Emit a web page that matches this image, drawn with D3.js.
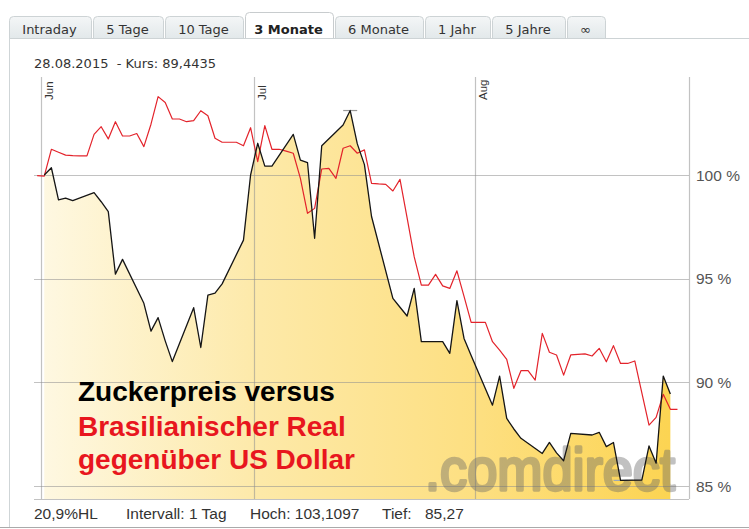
<!DOCTYPE html>
<html><head><meta charset="utf-8">
<script src="https://cdn.jsdelivr.net/npm/d3@7"></script>
<style>html,body{margin:0;padding:0;background:#fff;} svg{display:block;}</style>
</head><body><svg id="c" width="749" height="529"></svg>
<script>
// ---------- data ----------
const tabLabels = ["Intraday","5 Tage","10 Tage","3 Monate","6 Monate","1 Jahr","5 Jahre","\u221E"];
const activeTab = "3 Monate";
const headerText = "28.08.2015  - Kurs: 89,4435";

const sugarDates = ["2015-06-01","2015-06-02","2015-06-03","2015-06-04","2015-06-05",
 "2015-06-08","2015-06-09","2015-06-10","2015-06-11","2015-06-12",
 "2015-06-15","2015-06-16","2015-06-17","2015-06-18","2015-06-19",
 "2015-06-22","2015-06-23","2015-06-24","2015-06-25","2015-06-26",
 "2015-06-29","2015-06-30","2015-07-01","2015-07-02","2015-07-03",
 "2015-07-06","2015-07-07","2015-07-08","2015-07-09","2015-07-10",
 "2015-07-13","2015-07-14","2015-07-15","2015-07-16","2015-07-17",
 "2015-07-20","2015-07-21","2015-07-22","2015-07-23","2015-07-24",
 "2015-07-27","2015-07-28","2015-07-29","2015-07-30","2015-07-31",
 "2015-08-03","2015-08-04","2015-08-05","2015-08-06","2015-08-07",
 "2015-08-10","2015-08-11","2015-08-12","2015-08-13","2015-08-14",
 "2015-08-17","2015-08-18","2015-08-19","2015-08-20","2015-08-21",
 "2015-08-24","2015-08-25","2015-08-26","2015-08-27","2015-08-28"];
const sugarValues = [100, 100.35, 98.8, 98.88, 98.76,
 99.15, 98.71, 98.23, 95.22, 95.93,
 93.81, 92.47, 93.12, 92.0, 91.0,
 93.6, 91.68, 94.21, 94.3, 94.75,
 96.86, 100.0, 101.53, 100.43, 100.43,
 101.96, 100.72, 100.6, 96.95, 101.41,
 102.41, 103.11, 101.5, 100.5, 98.0,
 94.05, 93.62, 93.2, 94.53, 91.96,
 91.96, 91.4, 93.94, 92.12, 91.3,
 88.9, 90.3, 88.26, 87.75, 87.3,
 86.57, 87.1, 86.6, 86.22, 87.54,
 87.46, 87.59, 86.9, 87.1, 85.27,
 85.29, 86.93, 86.1, 90.3, 89.44];

// BRL vs USD, daily quotes 31 May - 29 Aug
const realStart = "2015-05-31";
const realValues = [
 99.97,
 // June
 99.95, 101.24, 101.1, 100.96, 100.93, 100.92, 100.92, 101.96, 102.33, 101.74,
 102.57, 101.88, 101.88, 102.0, 101.37, 102.45, 103.78, 103.5, 102.7, 102.7,
 102.57, 102.62, 103.1, 102.86, 101.77, 101.58, 101.58, 101.58, 101.41, 102.28,
 // July
 100.64, 102.38, 101.24, 101.24, 101.15, 101.05, 99.84, 98.15, 98.39, 100.29,
 100.32, 99.84, 101.29, 101.41, 101.05, 101.21, 99.6, 99.57, 99.55, 99.23,
 99.79, 97.93, 96.05, 94.69, 94.69, 95.21, 94.65, 94.53, 95.38, 94.15, 92.89,
 // August
 92.89, 92.89, 91.96, 91.55, 91.11, 89.71, 90.56, 90.56, 90.11, 92.36,
 91.45, 91.32, 90.35, 91.32, 91.35, 91.37, 91.27, 91.64, 90.99, 91.77,
 90.91, 90.91, 91.03, 89.48, 87.94, 88.31, 89.42, 88.7, 88.7];

const monthTicks = ["2015-06-01","2015-07-01","2015-08-01"];
const monthLabels = ["Jun","Jul","Aug"];
const yTicks = [85, 90, 95, 100];
const yTickLabels = ["85 %","90 %","95 %","100 %"];
const highValue = 103.1097, lowValue = 85.27;
const footerTexts = ["20,9%HL", "Intervall: 1 Tag", "Hoch: 103,1097", "Tief:", "85,27"];
const titleLines = ["Zuckerpreis versus", "Brasilianischer Real", "gegenüber US Dollar"];
const watermark = ".comdirect";

// ---------- layout ----------
const W = 749, H = 529;
const plotLeft = 34, plotRight = 689, plotTop = 77, plotBottom = 499;
const quoteHour = 11;
const parse = d3.timeParse("%Y-%m-%d");

const svg = d3.select("#c");
const defs = svg.append("defs");

const x = d3.scaleTime()
  .domain([parse("2015-06-01"), parse("2015-08-01")])
  .range([41, 475]);
const y = d3.scaleLinear().domain([85, 100]).range([486, 175]);
const xq = d => x(d3.timeHour.offset(d, quoteHour));

const sugar = sugarDates.map((d, i) => ({date: parse(d), v: sugarValues[i]}));
const realDates = d3.timeDay.range(parse(realStart), d3.timeDay.offset(parse(realStart), realValues.length));
const real = realDates.map((d, i) => ({date: d, v: realValues[i]}));

// ---------- tabs ----------
const tabFont = "13px 'DejaVu Sans'";
const tabG = svg.append("g");
const tg = defs.append("linearGradient").attr("id","tabg").attr("x1",0).attr("x2",0).attr("y1",0).attr("y2",1);
tg.append("stop").attr("offset",0).attr("stop-color","#f4f6f7");
tg.append("stop").attr("offset",1).attr("stop-color","#e2e8ea");

const measure = svg.append("text").style("font", tabFont);
let tx = 9;
const tabs = tabLabels.map(l => {
  measure.text(l);
  const w = Math.round(measure.node().getComputedTextLength() + 29.2);
  const t = {label: l, x0: tx, x1: tx + w - 1};
  tx += w;
  return t;
});
measure.remove();

// baseline line
svg.append("line").attr("x1", 9).attr("x2", W).attr("y1", 38.5).attr("y2", 38.5)
  .attr("stroke", "#cdd3d5");

tabs.forEach(t => {
  const active = t.label === activeTab;
  const top = active ? 12.5 : 16.5, r = 4;
  const x0 = t.x0 + 0.5, x1 = t.x1 - 0.5, bot = active ? 39 : 38.5;
  const p = `M${x0},${bot} L${x0},${top + r} Q${x0},${top} ${x0 + r},${top} L${x1 - r},${top} Q${x1},${top} ${x1},${top + r} L${x1},${bot}`;
  tabG.append("path").attr("d", p + (active ? "" : "Z"))
    .attr("fill", active ? "#fff" : "url(#tabg)")
    .attr("stroke", active ? "#c8ccce" : "#cdd3d5");
  tabG.append("text")
    .attr("x", (t.x0 + t.x1) / 2 - 1).attr("y", 33.5)
    .attr("text-anchor", "middle")
    .style("font", (active ? "bold " : "") + "13px 'DejaVu Sans'")
    .attr("fill", active ? "#222" : "#333")
    .text(t.label);
});

// panel borders
svg.append("line").attr("x1", 9.5).attr("x2", 9.5).attr("y1", 38).attr("y2", 527.5).attr("stroke", "#cfd5d7");
svg.append("line").attr("x1", 0).attr("x2", W).attr("y1", 527.5).attr("y2", 527.5).attr("stroke", "#aaa");

// header
svg.append("text").attr("x", 34).attr("y", 67.5)
  .attr("xml:space", "preserve").style("white-space", "pre")
  .style("font", "13px 'DejaVu Sans'").attr("fill", "#333").text(headerText);

// ---------- plot ----------
const ag = defs.append("linearGradient").attr("id","areag")
  .attr("gradientUnits","userSpaceOnUse")
  .attr("x1", x(parse("2015-06-01"))).attr("x2", xq(sugar[sugar.length-1].date)).attr("y1",0).attr("y2",0);
[[0,"#fef8e2"],[0.35,"#fde9a8"],[0.7,"#fddf80"],[1,"#fcd452"]].forEach(s =>
  ag.append("stop").attr("offset", s[0]).attr("stop-color", s[1]));

const area = d3.area().x(d => xq(d.date)).y0(plotBottom).y1(d => y(d.v));
svg.append("path").datum(sugar).attr("d", area).attr("fill", "url(#areag)");

// grid
const gridG = svg.append("g").attr("stroke", "#8f8f8f").attr("stroke-opacity", 0.55).attr("stroke-width", 1.2);
yTicks.forEach(t => gridG.append("line").attr("x1", plotLeft).attr("x2", plotRight)
  .attr("y1", Math.round(y(t)) + 0.5).attr("y2", Math.round(y(t)) + 0.5));
monthTicks.forEach(m => {
  const xm = Math.round(x(parse(m))) + 0.5;
  gridG.append("line").attr("x1", xm).attr("x2", xm).attr("y1", plotTop).attr("y2", plotBottom);
});
gridG.append("line").attr("x1", plotRight + 0.5).attr("x2", plotRight + 0.5).attr("y1", plotTop).attr("y2", plotBottom);
gridG.append("line").attr("x1", plotLeft).attr("x2", plotRight).attr("y1", plotBottom + 0.5).attr("y2", plotBottom + 0.5);

// month labels
monthTicks.forEach((m, i) => {
  const xm = x(parse(m)) + 11.5;
  svg.append("text").attr("transform", `translate(${xm},100) rotate(-90)`)
    .style("font", "11.5px 'Liberation Sans'").attr("fill", "#333").text(monthLabels[i]);
});

// y labels
yTicks.forEach((t, i) => svg.append("text").attr("x", 696).attr("y", y(t)).attr("dy", "0.36em")
  .style("font", "15.5px 'Liberation Sans'").attr("fill", "#555").text(yTickLabels[i]));

// watermark
const wm = svg.append("g").attr("opacity", 0.4)
  .attr("transform", "translate(425,490) scale(1,1.1)");
wm.append("text").attr("x", 0).attr("y", 0)
  .attr("textLength", 250).attr("lengthAdjust", "spacingAndGlyphs")
  .style("font", "54px 'Liberation Sans'").attr("fill", "#666").attr("stroke", "#666").attr("stroke-width", 3)
  .attr("stroke-linejoin", "round")
  .text(watermark);

// high / low markers
const hi = sugar.find(d => d.v === d3.max(sugarValues));
const lo = sugar.find(d => d.v === d3.min(sugarValues));
svg.append("line").attr("x1", xq(hi.date) - 7).attr("x2", xq(hi.date) + 7)
  .attr("y1", y(highValue)).attr("y2", y(highValue)).attr("stroke", "#999").attr("stroke-width", 1.2);
svg.append("line").attr("x1", xq(lo.date) - 7).attr("x2", xq(lo.date) + 7)
  .attr("y1", y(lowValue)).attr("y2", y(lowValue)).attr("stroke", "#9aa8b8").attr("stroke-width", 1.2);

// lines
const line = d3.line().x(d => xq(d.date)).y(d => y(d.v));
svg.append("path").datum(real).attr("d", line).attr("fill", "none")
  .attr("stroke", "#e3232b").attr("stroke-width", 1.2).attr("stroke-linejoin", "round");
svg.append("path").datum(sugar).attr("d", line).attr("fill", "none")
  .attr("stroke", "#151515").attr("stroke-width", 1.3).attr("stroke-linejoin", "round");

// title overlay
const titleY = [401, 436, 469];
titleLines.forEach((t, i) => svg.append("text").attr("x", 78).attr("y", titleY[i])
  .style("font", "bold 28px 'Liberation Sans'").attr("fill", i === 0 ? "#000" : "#e8161e").text(t));

// footer
const footerX = [34, 126, 250, 382, 425];
footerTexts.forEach((t, i) => svg.append("text").attr("x", footerX[i]).attr("y", 519)
  .style("font", "15.5px 'Liberation Sans'").attr("fill", "#333").text(t));
</script></body></html>
